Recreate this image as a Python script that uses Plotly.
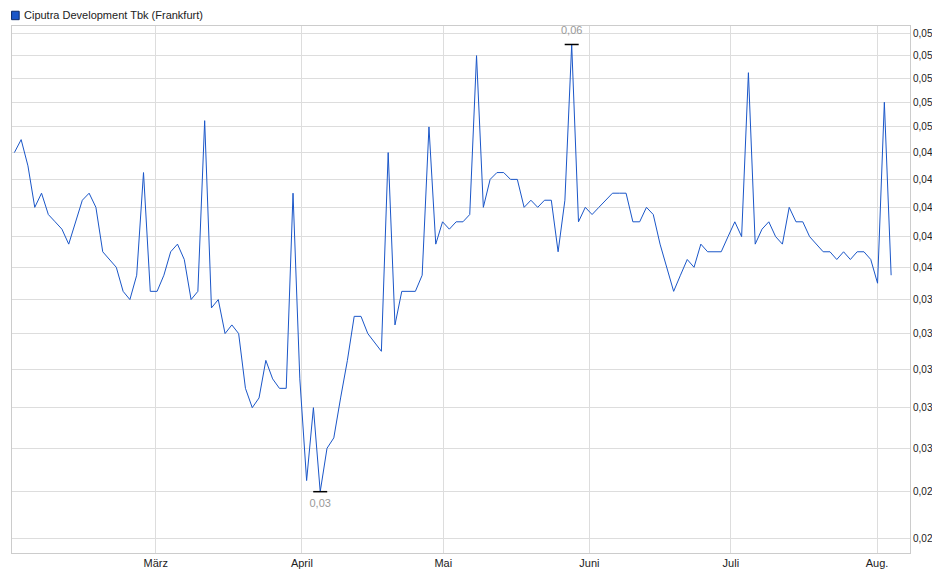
import numpy as np
import pandas as pd
import plotly.graph_objs as go

prices = [
    .048, .049, .047, .044, .045, .0435, .043, .0425, .0415, .043, .0445, .045, .044, .041, .0405, .040,
    .0385, .038, .0395, .0465, .0385, .0385, .0395, .041, .0415, .0405, .038, .0385, .0505, .0375, .038,
    .036, .0365, .036, .033, .032, .0325, .0345, .0335, .033, .033, .045, .0335, .0285, .032, .028, .030,
    .0305, .0325, .0345, .037, .037, .036, .0355, .035, .048, .0365, .0385, .0385, .0385, .0395, .050,
    .0415, .043, .0425, .043, .043, .0435, .056, .044, .046, .0465, .0465, .046, .046, .044, .0445, .044,
    .0445, .0445, .041, .0445, .057, .043, .044, .0435, .044, .0445, .045, .045, .045, .043, .043, .044,
    .0435, .0415, .040, .0385, .0395, .0405, .040, .0415, .041, .041, .041, .042, .043, .042, .0545,
    .0415, .0425, .043, .042, .0415, .044, .043, .043, .042, .0415, .041, .041, .0405, .041, .0405, .041,
    .041, .0405, .039, .052, .0395,
]
dates = pd.date_range('2023-01-30', '2023-08-04', periods=len(prices))

month_ticks = ['2023-03-01', '2023-04-01', '2023-05-01', '2023-06-01', '2023-07-01', '2023-08-01']
month_labels = ['März', 'April', 'Mai', 'Juni', 'Juli', 'Aug.']
y_ticks = [round(0.026 + 0.002 * i, 3) for i in range(17)]

i_max = int(np.argmax(prices))
i_min = int(np.argmin(prices))

fig = go.Figure()
fig.add_trace(go.Scatter(x=dates, y=prices, mode='lines', line=dict(color='#1a56c8', width=1),
                         showlegend=False, hoverinfo='x+y'))
# max / min markers
for i, pos in [(i_max, 'top'), (i_min, 'bottom')]:
    fig.add_trace(go.Scatter(x=[dates[i]], y=[prices[i]], mode='markers+text',
                             marker=dict(symbol='line-ew', size=10, line=dict(color='black', width=1.5)),
                             text=[('%.2f' % prices[i]).replace('.', ',')], textposition=pos + ' center',
                             textfont=dict(color='#999999', size=11), showlegend=False))

# legend box
fig.add_shape(type='rect', xref='paper', yref='paper', x0=-0.0005, x1=0.008, y0=1.012, y1=1.028,
              fillcolor='#1a56c8', line=dict(color='#0a2a6a', width=1))
fig.add_annotation(xref='paper', yref='paper', x=0.011, y=1.02, xanchor='left', yanchor='middle',
                   text='Ciputra Development Tbk (Frankfurt)', showarrow=False, font=dict(size=11))

fig.update_layout(
    width=940, height=579, plot_bgcolor='white', paper_bgcolor='white',
    margin=dict(l=4, r=38, t=18, b=34),
    separators=',.', showlegend=False,
    font=dict(family='Liberation Sans, Arial', size=11, color='#222222'),
    xaxis=dict(tickvals=month_ticks, ticktext=month_labels, showgrid=True, gridcolor='#dddddd',
               range=['2023-01-29 12:00', '2023-08-08'], showline=True, linecolor='#cccccc', mirror=True,
               ticks='', zeroline=False),
    yaxis=dict(type='log', side='right', tickvals=y_ticks, tickformat='.3f', showgrid=True,
               gridcolor='#dddddd', range=[np.log10(0.0254), np.log10(0.0587)],
               showline=True, linecolor='#cccccc', mirror=True, ticks='', tickfont=dict(size=10)),
)
fig.write_html("out.html")
